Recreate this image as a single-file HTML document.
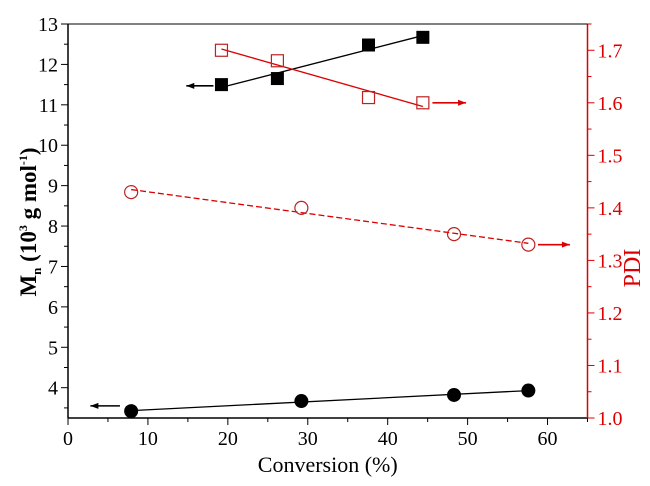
<!DOCTYPE html>
<html><head><meta charset="utf-8"><style>
html,body{margin:0;padding:0;background:#fff;}
svg{display:block;font-family:"Liberation Serif",serif;}
</style></head><body>
<svg id="c" width="650" height="486" viewBox="0 0 650 486"></svg>
<script>
const conv_sq=[19.2,26.2,37.6,44.4];
const mn_sq=[11.5,11.65,12.48,12.67];
const pdi_sq=[1.70,1.68,1.61,1.60];
const conv_ci=[7.9,29.2,48.3,57.6];
const mn_ci=[3.42,3.67,3.82,3.93];
const pdi_ci=[1.43,1.40,1.35,1.33];
const xTicks=[0,10,20,30,40,50,60];
const yTicks=[4,5,6,7,8,9,10,11,12,13];
const y2Ticks=[1.0,1.1,1.2,1.3,1.4,1.5,1.6,1.7];

const L=68,R=587.5,T=24,B=418;
const X=v=>L+(v-0)/65*(R-L);
const Y=v=>B-(v-3.25)/(13-3.25)*(B-T);
const Y2=v=>B-(v-1.0)/0.75*(B-T);
const svg=document.getElementById('c');
const NS='http://www.w3.org/2000/svg';
function mk(tag,attrs,parent){const e=document.createElementNS(NS,tag);for(const k in attrs)e.setAttribute(k,attrs[k]);(parent||svg).appendChild(e);return e;}
function fit(xs,ys){const n=xs.length;let sx=0,sy=0,sxx=0,sxy=0;for(let i=0;i<n;i++){sx+=xs[i];sy+=ys[i];sxx+=xs[i]*xs[i];sxy+=xs[i]*ys[i];}const b=(n*sxy-sx*sy)/(n*sxx-sx*sx);return [b,(sy-b*sx)/n];}

let e=mk('line',{x1:L,y1:B,x2:R,y2:B,stroke:'#000','stroke-width':1.5});

e=mk('line',{x1:L,y1:T,x2:L,y2:B,stroke:'#000','stroke-width':1.5});

e=mk('line',{x1:R,y1:T,x2:R,y2:B,stroke:'#d00','stroke-width':1.5});

e=mk('line',{x1:L,y1:T,x2:R,y2:T,stroke:'#000','stroke-width':1});


for(let v=0;v<=65;v+=5){const big=v%10==0;mk('line',{x1:X(v),y1:B,x2:X(v),y2:B+(big?7:4),stroke:'#000','stroke-width':1});}
xTicks.forEach(v=>{const t=mk('text',{x:X(v),y:B+27,'text-anchor':'middle','font-size':20});t.textContent=v;
});
for(let v=3.5;v<=13.001;v+=0.5){const big=Math.abs(v-Math.round(v))<1e-6;mk('line',{x1:L,y1:Y(v),x2:L-(big?7:4),y2:Y(v),stroke:'#000','stroke-width':1});}
yTicks.forEach(v=>{const t=mk('text',{x:L-10,y:Y(v)+7,'text-anchor':'end','font-size':20});t.textContent=v;
});
for(let v=1.0;v<=1.7501;v+=0.05){const big=Math.abs(v*10-Math.round(v*10))<1e-6;mk('line',{x1:R,y1:Y2(v),x2:R+(big?7:4),y2:Y2(v),stroke:'#d00','stroke-width':1});}
y2Ticks.forEach(v=>{const t=mk('text',{x:R+10,y:Y2(v)+7,'font-size':20,fill:'#d00'});t.textContent=v.toFixed(1);
});

e=mk('text',{x:(L+R)/2,y:472,'text-anchor':'middle','font-size':22});e.textContent='Conversion (%)';

e=mk('text',{transform:'translate(36,222) rotate(-90)','text-anchor':'middle','font-size':23,'font-weight':'bold'});
e.innerHTML='M<tspan font-size="13" dy="5">n</tspan><tspan dy="-5"> (10</tspan><tspan font-size="12" dy="-9">3</tspan><tspan dy="9"> g mol</tspan><tspan font-size="12" dy="-9">-1</tspan><tspan dy="9">)</tspan>';

e=mk('text',{transform:'translate(640,268) rotate(-90)','text-anchor':'middle','font-size':24,fill:'#d00'});e.textContent='PDI';


function fitLine(xs,ys,yf,col,dash,name){const [b,a]=fit(xs,ys);const x0=xs[0],x1=xs[xs.length-1];
const l=mk('line',{x1:X(x0),y1:yf(a+b*x0),x2:X(x1),y2:yf(a+b*x1),stroke:col,'stroke-width':1.3,'stroke-dasharray':dash||'none'});
}
fitLine(conv_sq,mn_sq,Y,'#000',null,'mn-square-fit');
fitLine(conv_ci,mn_ci,Y,'#000',null,'mn-circle-fit');
fitLine(conv_sq,pdi_sq,Y2,'#d00',null,'pdi-square-fit');
fitLine(conv_ci,pdi_ci,Y2,'#d00','6,3','pdi-circle-fit');

conv_sq.forEach((c,i)=>{const m=mk('rect',{x:X(c)-6.5,y:Y(mn_sq[i])-6.5,width:13,height:13,fill:'#000'});

const p=mk('rect',{x:X(c)-6,y:Y2(pdi_sq[i])-6,width:12,height:12,fill:'none',stroke:'#b22','stroke-width':1.2});
});
conv_ci.forEach((c,i)=>{const m=mk('circle',{cx:X(c),cy:Y(mn_ci[i]),r:7,fill:'#000'});

const p=mk('circle',{cx:X(c),cy:Y2(pdi_ci[i]),r:6.5,fill:'none',stroke:'#b22','stroke-width':1.2});
});

function arrow(x1,y,x2,col,name){const g=mk('g',{});

mk('line',{x1:x1,y1:y,x2:x2,y2:y,stroke:col,'stroke-width':1.6},g);
const d=x2>x1?1:-1;mk('polygon',{points:`${x2},${y} ${x2-d*8},${y-3} ${x2-d*8},${y+3}`,fill:col},g);}
arrow(X(18.2),Y(11.47),X(14.8),'#000','arrow-left-squares');
arrow(X(45.6),Y2(1.60),X(49.8),'#d00','arrow-right-squares');
arrow(X(6.5),Y(3.55),X(2.8),'#000','arrow-left-circles');
arrow(X(58.8),Y2(1.33),X(62.8),'#d00','arrow-right-circles');
</script>
</body></html>
